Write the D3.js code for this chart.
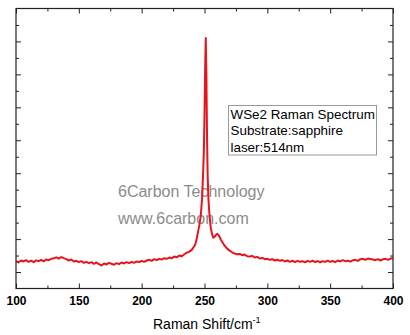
<!DOCTYPE html>
<html>
<head>
<meta charset="utf-8">
<script src="https://cdn.jsdelivr.net/npm/d3@7"></script>
<style>
  html, body { margin: 0; padding: 0; background: #fff; }
  svg { display: block; font-family: "Liberation Sans", Arial, sans-serif; }
</style>
</head>
<body>
<svg id="chart" width="410" height="335"></svg>
<script>
// Raman shift (cm^-1) and measured intensity (counts)
const ramanShift = [
  100,102,104,106,108,110,112,114,116,118,120,122,124,126,128,130,132,134,136,138,
  140,142,144,146,148,150,152,154,156,158,160,162,164,166,168,170,172,174,176,178,
  180,182,184,186,188,190,192,194,196,198,200,202,204,206,208,210,212,214,216,218,
  220,222,224,226,228,230,232,234,236,238,240,242,243,244,245,246,247,248,248.5,249,
  249.5,250,250.5,251,251.5,252,252.5,253,253.5,254,254.5,255,256,257,258,259,260,261,
  262,263,264,265,266,268,270,272,274,276,278,280,282,284,286,288,290,292,294,296,
  298,300,302,304,306,308,310,312,314,316,318,320,322,324,326,328,330,332,334,336,
  338,340,342,344,346,348,350,352,354,356,358,360,362,364,366,368,370,372,374,376,
  378,380,382,384,386,388,390,392,394,396,398,400
];
const intensity = [
  1330,1290,1350,1320,1360,1310,1345,1300,1355,1330,1370,1325,1380,1360,1400,1420,1445,1410,1455,1420,
  1390,1350,1380,1320,1340,1300,1330,1280,1310,1270,1300,1250,1290,1240,1200,1260,1230,1280,1250,1220,
  1270,1240,1290,1260,1300,1270,1310,1280,1320,1300,1340,1310,1350,1370,1340,1390,1360,1400,1380,1420,
  1400,1440,1420,1470,1450,1500,1480,1540,1590,1620,1680,1790,1880,2050,2250,2440,2700,3190,3640,4100,
  4700,5770,7130,8105,6980,5160,3950,3340,2970,2730,2520,2340,2150,2040,2070,2120,2160,2130,
  2070,1980,1920,1860,1800,1710,1650,1600,1560,1540,1550,1510,1530,1480,1470,1490,1440,1460,1410,1430,
  1390,1400,1370,1390,1350,1375,1340,1365,1320,1350,1310,1345,1300,1340,1310,1330,1295,1340,1310,1345,
  1300,1335,1290,1330,1305,1345,1310,1335,1300,1350,1320,1360,1330,1345,1315,1355,1370,1340,1390,1400,
  1370,1410,1395,1380,1360,1390,1350,1385,1400,1370,1410,1420
];

const xMajorTicks = [100, 150, 200, 250, 300, 350, 400];
const xMinorTicks = [125, 175, 225, 275, 325, 375];
const yMajorTicks = [1000, 2000, 3000, 4000, 5000, 6000, 7000, 8000];
const yMinorTicks = [1500, 2500, 3500, 4500, 5500, 6500, 7500, 8500];
const legendLines = ["WSe2 Raman Spectrum", "Substrate:sapphire", "laser:514nm"];
const watermark = ["6Carbon Technology", "www.6carbon.com"];

const svg = d3.select("#chart");
const plotLeft = 16, plotRight = 393, plotTop = 8.5, plotBottom = 288.5;

const x = d3.scaleLinear().domain([100, 400]).range([plotLeft, plotRight]);
const y = d3.scaleLinear().domain([500, 9000]).range([plotBottom, plotTop]);

// watermark text sits behind the spectrum
svg.append("g").selectAll("text").data(watermark).join("text")
  .attr("x", 118)
  .attr("y", (d, i) => 197 + i * 27)
  .attr("font-size", 16)
  .attr("fill", "#8c8c8c")
  .text(d => d);

// spectrum
const line = d3.line().x((d, i) => x(ramanShift[i])).y(d => y(d));
svg.append("path")
  .datum(intensity)
  .attr("d", line)
  .attr("fill", "none")
  .attr("stroke", "#e8141b")
  .attr("stroke-width", 2)
  .attr("stroke-linejoin", "round");

// axes with inward ticks
const axisColor = "#222";
function styleAxis(g) {
  g.select(".domain").remove();
  g.selectAll(".tick line").attr("stroke", axisColor).attr("stroke-width", 1);
}

svg.append("g").attr("transform", `translate(0,${plotBottom})`)
  .call(d3.axisBottom(x).tickValues(xMajorTicks).tickSize(-5).tickPadding(8).tickFormat(d3.format("d")))
  .call(styleAxis)
  .call(g => g.selectAll("text").attr("font-size", 12).attr("font-weight", "bold")
    .attr("fill", "#000").attr("font-family", "Liberation Sans, Arial, sans-serif"));
svg.append("g").attr("transform", `translate(0,${plotBottom})`)
  .call(d3.axisBottom(x).tickValues(xMinorTicks).tickSize(-3).tickFormat(""))
  .call(styleAxis);
svg.append("g").attr("transform", `translate(0,${plotTop})`)
  .call(d3.axisTop(x).tickValues(xMajorTicks).tickSize(-5).tickFormat(""))
  .call(styleAxis);
svg.append("g").attr("transform", `translate(0,${plotTop})`)
  .call(d3.axisTop(x).tickValues(xMinorTicks).tickSize(-3).tickFormat(""))
  .call(styleAxis);
svg.append("g").attr("transform", `translate(${plotLeft},0)`)
  .call(d3.axisLeft(y).tickValues(yMajorTicks).tickSize(-5).tickFormat(""))
  .call(styleAxis);
svg.append("g").attr("transform", `translate(${plotLeft},0)`)
  .call(d3.axisLeft(y).tickValues(yMinorTicks).tickSize(-3).tickFormat(""))
  .call(styleAxis);
svg.append("g").attr("transform", `translate(${plotRight},0)`)
  .call(d3.axisRight(y).tickValues(yMajorTicks).tickSize(-5).tickFormat(""))
  .call(styleAxis);
svg.append("g").attr("transform", `translate(${plotRight},0)`)
  .call(d3.axisRight(y).tickValues(yMinorTicks).tickSize(-3).tickFormat(""))
  .call(styleAxis);

// plot frame
svg.append("rect")
  .attr("x", plotLeft).attr("y", plotTop)
  .attr("width", plotRight - plotLeft).attr("height", plotBottom - plotTop)
  .attr("fill", "none").attr("stroke", axisColor).attr("stroke-width", 1.2);

// x axis title with superscript
const title = svg.append("text")
  .attr("x", 153).attr("y", 329)
  .attr("font-size", 14).attr("fill", "#000");
title.append("tspan").text("Raman Shift/cm");
title.append("tspan").attr("dy", -6).attr("font-size", 9).text("-1");

// annotation box
const box = svg.append("g");
box.append("rect")
  .attr("x", 228.5).attr("y", 105.5)
  .attr("width", 148).attr("height", 49.5)
  .attr("fill", "#fff").attr("stroke", "#9a9a9a").attr("stroke-width", 1);
box.selectAll("text").data(legendLines).join("text")
  .attr("x", 230.5)
  .attr("y", (d, i) => 119 + i * 16.4)
  .attr("font-size", 13.4)
  .attr("fill", "#000")
  .text(d => d);
</script>
</body>
</html>
